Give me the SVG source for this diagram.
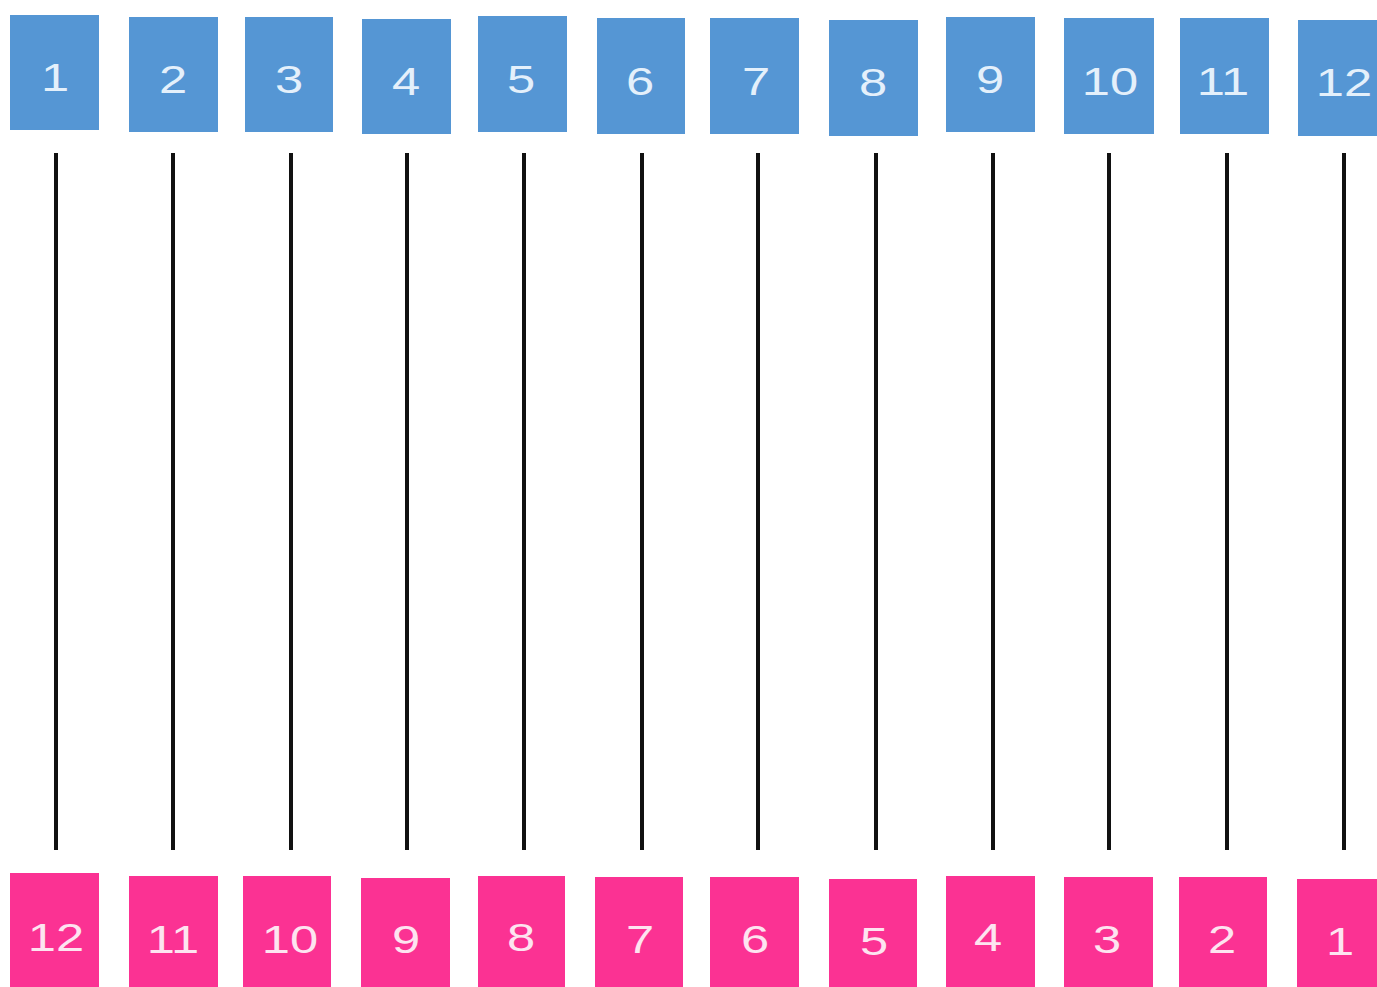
<svg xmlns="http://www.w3.org/2000/svg" width="1377" height="987" viewBox="0 0 1377 987">
<style>
.t rect{fill:#5596D4}
.b rect{fill:#FB3293}
text{font-family:"Liberation Sans",Arial,sans-serif;font-size:39px;text-anchor:middle}
.t text{fill:#e4f0fb}
.b text{fill:#fde4f0}
#connectors line{stroke:#111;stroke-width:4}
</style>
<rect width="1377" height="987" fill="#fff"/>
<g id="connectors">
<line x1="56" y1="153" x2="56" y2="850"/>
<line x1="173" y1="153" x2="173" y2="850"/>
<line x1="291" y1="153" x2="291" y2="850"/>
<line x1="407" y1="153" x2="407" y2="850"/>
<line x1="524" y1="153" x2="524" y2="850"/>
<line x1="642" y1="153" x2="642" y2="850"/>
<line x1="758" y1="153" x2="758" y2="850"/>
<line x1="876" y1="153" x2="876" y2="850"/>
<line x1="993" y1="153" x2="993" y2="850"/>
<line x1="1109" y1="153" x2="1109" y2="850"/>
<line x1="1227" y1="153" x2="1227" y2="850"/>
<line x1="1344" y1="153" x2="1344" y2="850"/>
</g>
<g id="top-1" class="t"><rect x="10" y="15" width="89" height="115"/><text transform="translate(55,91) scale(1.3,1)">1</text></g>
<g id="top-2" class="t"><rect x="129" y="17" width="89" height="115"/><text transform="translate(173,93) scale(1.3,1)">2</text></g>
<g id="top-3" class="t"><rect x="245" y="17" width="88" height="115"/><text transform="translate(289,93) scale(1.3,1)">3</text></g>
<g id="top-4" class="t"><rect x="362" y="19" width="89" height="115"/><text transform="translate(406,95) scale(1.3,1)">4</text></g>
<g id="top-5" class="t"><rect x="478" y="16" width="89" height="116"/><text transform="translate(521,93) scale(1.3,1)">5</text></g>
<g id="top-6" class="t"><rect x="597" y="18" width="88" height="116"/><text transform="translate(640,95) scale(1.3,1)">6</text></g>
<g id="top-7" class="t"><rect x="710" y="18" width="89" height="116"/><text transform="translate(756,95) scale(1.3,1)">7</text></g>
<g id="top-8" class="t"><rect x="829" y="20" width="89" height="116"/><text transform="translate(873,96) scale(1.3,1)">8</text></g>
<g id="top-9" class="t"><rect x="946" y="17" width="89" height="115"/><text transform="translate(990,93) scale(1.3,1)">9</text></g>
<g id="top-10" class="t"><rect x="1064" y="18" width="90" height="116"/><text transform="translate(1110,95) scale(1.3,1)">10</text></g>
<g id="top-11" class="t"><rect x="1180" y="18" width="89" height="116"/><text transform="translate(1223,95) scale(1.3,1)">11</text></g>
<g id="top-12" class="t"><rect x="1298" y="20" width="89" height="116"/><text transform="translate(1344,96) scale(1.3,1)">12</text></g>
<g id="bot-12" class="b"><rect x="10" y="873" width="89" height="120"/><text transform="translate(56,951) scale(1.3,1)">12</text></g>
<g id="bot-11" class="b"><rect x="129" y="876" width="89" height="117"/><text transform="translate(173,953) scale(1.3,1)">11</text></g>
<g id="bot-10" class="b"><rect x="243" y="876" width="88" height="117"/><text transform="translate(290,953) scale(1.3,1)">10</text></g>
<g id="bot-9" class="b"><rect x="361" y="878" width="89" height="115"/><text transform="translate(406,953) scale(1.3,1)">9</text></g>
<g id="bot-8" class="b"><rect x="478" y="876" width="87" height="117"/><text transform="translate(521,951) scale(1.3,1)">8</text></g>
<g id="bot-7" class="b"><rect x="595" y="877" width="88" height="116"/><text transform="translate(640,953) scale(1.3,1)">7</text></g>
<g id="bot-6" class="b"><rect x="710" y="877" width="89" height="116"/><text transform="translate(755,953) scale(1.3,1)">6</text></g>
<g id="bot-5" class="b"><rect x="829" y="879" width="88" height="114"/><text transform="translate(874,955) scale(1.3,1)">5</text></g>
<g id="bot-4" class="b"><rect x="946" y="876" width="89" height="117"/><text transform="translate(988,951) scale(1.3,1)">4</text></g>
<g id="bot-3" class="b"><rect x="1064" y="877" width="89" height="116"/><text transform="translate(1107,953) scale(1.3,1)">3</text></g>
<g id="bot-2" class="b"><rect x="1179" y="877" width="88" height="116"/><text transform="translate(1222,953) scale(1.3,1)">2</text></g>
<g id="bot-1" class="b"><rect x="1297" y="879" width="90" height="114"/><text transform="translate(1340,955) scale(1.3,1)">1</text></g>
</svg>
